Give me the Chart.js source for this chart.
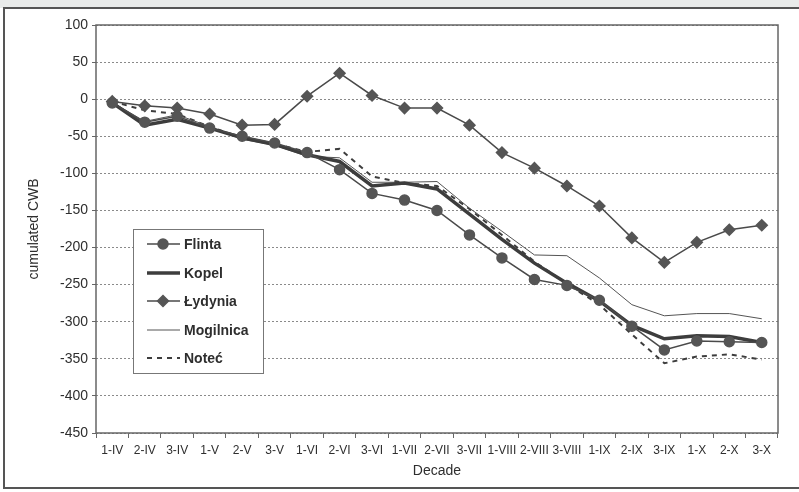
<!DOCTYPE html>
<html>
<head>
<meta charset="utf-8">
<script src="https://cdn.jsdelivr.net/npm/chart.js@4/dist/chart.umd.min.js"></script>
<style>
  html, body { margin: 0; padding: 0; background: #fff; }
  #wrap { width: 799px; height: 492px; position: relative; }
</style>
</head>
<body>
<div id="wrap"><canvas id="c" width="799" height="492"></canvas></div>
<script>
// Ten-day periods (decade-month), April to October
const decades = ['1-IV','2-IV','3-IV','1-V','2-V','3-V','1-VI','2-VI','3-VI','1-VII','2-VII','3-VII',
                 '1-VIII','2-VIII','3-VIII','1-IX','2-IX','3-IX','1-X','2-X','3-X'];

// Cumulated climatic water balance per station
const flinta    = [-5, -31, -23, -39, -50, -59, -72, -95, -127, -136, -150, -183, -214, -243, -251, -271, -306, -338, -326, -327, -328];
const kopel     = [-5, -35, -27, -39, -52, -61, -75, -84, -117, -113, -121, -155, -189, -221, -248, -272, -305, -323, -319, -320, -328];
const lydynia   = [-3, -9, -12, -20, -35, -34, 4, 35, 5, -12, -12, -35, -72, -93, -117, -144, -187, -220, -193, -176, -170];
const mogilnica = [-4, -30, -21, -37, -54, -62, -77, -79, -112, -112, -111, -147, -178, -210, -211, -241, -277, -292, -289, -289, -296];
const notec     = [-3, -15, -20, -37, -52, -60, -71, -67, -104, -113, -117, -148, -183, -219, -249, -277, -317, -356, -347, -344, -351];

const yTicks = { min: -450, max: 100, step: 50 };

const ink = '#4a4a4a';
const fontFamily = 'Arial, "Liberation Sans", sans-serif';

const frame = {
  id: 'frame',
  beforeDraw(chart) {
    const ctx = chart.ctx;
    ctx.save();
    ctx.fillStyle = '#e9ebea';
    ctx.fillRect(0, 0, chart.width, 8);
    ctx.fillStyle = '#fff';
    ctx.fillRect(0, 8, chart.width, chart.height - 8);
    ctx.strokeStyle = '#555';
    ctx.lineWidth = 2;
    ctx.strokeRect(4, 8, chart.width - 2, 480);
    ctx.restore();
  },
  afterDatasetsDraw(chart) {
    const { left, top, right, bottom } = chart.chartArea;
    const ctx = chart.ctx;
    ctx.save();
    ctx.strokeStyle = '#666';
    ctx.lineWidth = 1.5;
    ctx.strokeRect(left, top, right - left, bottom - top);
    ctx.restore();
  },
  afterDraw(chart) {
    // Legend box drawn inside the plot area
    const ctx = chart.ctx;
    const bx = 133, by = 229, bw = 130, bh = 144;
    ctx.save();
    ctx.fillStyle = '#fff';
    ctx.fillRect(bx, by, bw, bh);
    ctx.strokeStyle = '#777';
    ctx.lineWidth = 1;
    ctx.strokeRect(bx + 0.5, by + 0.5, bw, bh);
    const rowY = [244, 273, 301, 330, 358];
    chart.data.datasets.forEach((ds, i) => {
      const y = rowY[i];
      ctx.strokeStyle = ds.borderColor;
      ctx.lineWidth = ds.borderWidth;
      ctx.setLineDash(ds.borderDash || []);
      ctx.beginPath();
      ctx.moveTo(147, y);
      ctx.lineTo(180, y);
      ctx.stroke();
      ctx.setLineDash([]);
      if (ds.pointRadius > 0) {
        ctx.fillStyle = ds.pointBackgroundColor;
        ctx.strokeStyle = ds.pointBorderColor;
        Chart.helpers.drawPoint(ctx, {
          pointStyle: ds.pointStyle, radius: ds.pointRadius, rotation: 0, borderWidth: 1
        }, 163, y);
      }
      ctx.fillStyle = '#2e2e2e';
      ctx.font = 'bold 14px ' + fontFamily;
      ctx.textBaseline = 'middle';
      ctx.textAlign = 'left';
      ctx.fillText(ds.label, 184, y + 1);
    });
    ctx.restore();
  }
};

new Chart(document.getElementById('c'), {
  type: 'line',
  data: {
    labels: decades,
    datasets: [
      { label: 'Flinta', data: flinta, borderColor: ink, borderWidth: 1.5,
        pointStyle: 'circle', pointRadius: 5, pointBackgroundColor: '#555', pointBorderColor: '#555' },
      { label: 'Kopel', data: kopel, borderColor: '#3d3d3d', borderWidth: 3.5, pointRadius: 0 },
      { label: 'Łydynia', data: lydynia, borderColor: ink, borderWidth: 1.5,
        pointStyle: 'rectRot', pointRadius: 5.5, pointBackgroundColor: '#555', pointBorderColor: '#555' },
      { label: 'Mogilnica', data: mogilnica, borderColor: '#555', borderWidth: 1, pointRadius: 0 },
      { label: 'Noteć', data: notec, borderColor: '#3d3d3d', borderWidth: 2, borderDash: [5, 5], pointRadius: 0 }
    ]
  },
  options: {
    responsive: false,
    animation: false,
    devicePixelRatio: 1,
    elements: { line: { tension: 0 } },
    layout: { padding: { left: 22, right: 21, top: 25, bottom: 8 } },
    plugins: { legend: { display: false }, tooltip: { enabled: false } },
    scales: {
      x: {
        offset: true,
        grid: { display: true, drawOnChartArea: false, offset: true, tickLength: 5, color: '#666' },
        border: { display: false },
        ticks: { autoSkip: false, maxRotation: 0, padding: 5, color: '#2e2e2e',
                 font: { family: fontFamily, size: 12 } },
        title: { display: true, text: 'Decade', color: '#2e2e2e', padding: { top: 2, bottom: 4 },
                 font: { family: fontFamily, size: 14 } },
        afterFit(s) { s.height = 51; }
      },
      y: {
        min: yTicks.min, max: yTicks.max,
        ticks: { stepSize: yTicks.step, padding: 4, color: '#2e2e2e',
                 font: { family: fontFamily, size: 14 } },
        grid: { color: '#8a8a8a', lineWidth: 1, tickLength: 4, tickColor: '#666' },
        border: { display: false, dash: [2, 2] },
        title: { display: true, text: 'cumulated CWB', color: '#2e2e2e',
                 font: { family: fontFamily, size: 14 } },
        afterFit(s) { s.width = 74; }
      }
    }
  },
  plugins: [frame]
});
</script>
</body>
</html>
